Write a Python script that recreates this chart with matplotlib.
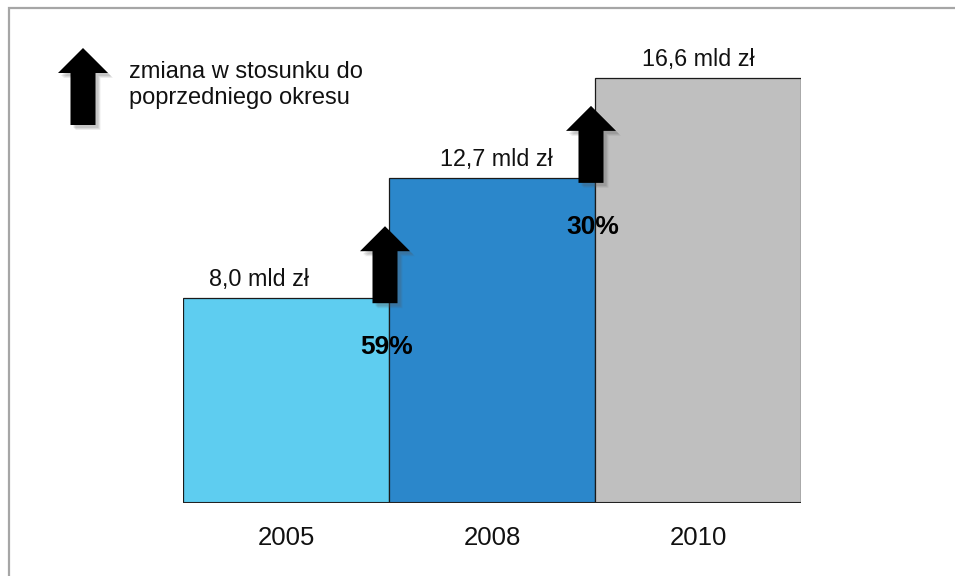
#!/usr/bin/env python3
"""Bar chart: wartosc w mld zl, 2005 / 2008 / 2010, with change arrows."""

import matplotlib
matplotlib.use("Agg")
import matplotlib.pyplot as plt
import matplotlib.patches as mpatches
import matplotlib.transforms as mtransforms

plt.rcParams['font.family'] = ['Liberation Sans', 'DejaVu Sans']

# data
years = ['2005', '2008', '2010']
values = [8.0, 12.7, 16.6]
value_labels = ['8,0 mld zł', '12,7 mld zł', '16,6 mld zł']
changes = ['59%', '30%']
colors = ['#5ECDF0', '#2B87CB', '#BFBFBF']
legend_text = 'zmiana w stosunku do\npoprzedniego okresu'

W, H, DPI = 955, 576, 100
fig = plt.figure(figsize=(W / DPI, H / DPI), dpi=DPI)

# grey frame around the slide area (runs off right/bottom edges)
frame = mpatches.Rectangle((9 / W, -0.05), 1.2, 1 - 8 / H + 0.05,
                           transform=fig.transFigure, fill=False,
                           edgecolor='#A6A6A6', linewidth=1.6)
fig.patches.append(frame)

# axes placed so bars sit at the right pixels
left, right, bottom = 183, 801, 503
ymax = 18.0
px_per_unit = 25.6
ax = fig.add_axes([left / W, (H - bottom) / H,
                   (right - left) / W, ymax * px_per_unit / H])
ax.set_xlim(-0.5, 2.5)
ax.set_ylim(0, ymax)
ax.axis('off')

x = list(range(len(years)))
ax.bar(x, values, width=1.0, color=colors, edgecolor='#1a1a1a',
       linewidth=0.9, zorder=2)
ax.plot([-0.5, 2.5], [0, 0], color='#222222', linewidth=1.5, zorder=3,
        solid_capstyle='butt')

label_dx = [-0.13, 0.02, 0.0]
for i, (v, lab) in enumerate(zip(values, value_labels)):
    ax.annotate(lab, (i + label_dx[i], v), xytext=(0, 7),
                textcoords='offset pixels', ha='center', va='bottom',
                fontsize=16.8, color='#111111')

for i, yr in enumerate(years):
    ax.annotate(yr, (i, 0), xytext=(0, -35), textcoords='offset pixels',
                ha='center', va='center', fontsize=18.5, color='#111111')

# block arrow shape, in pixels relative to (center, bottom)
arrow_shape = [(-12.5, 0), (12.5, 0), (12.5, 52), (25, 52), (0, 77),
               (-25, 52), (-12.5, 52)]


def px_trans(base_trans, bx, by):
    return (mtransforms.Affine2D().scale(1 / DPI) + fig.dpi_scale_trans +
            mtransforms.ScaledTranslation(bx, by, base_trans))


def draw_arrow(trans, dx, dy):
    pts = [(px + dx, py + dy) for px, py in arrow_shape]
    for off, a in [(5, 0.10), (4, 0.12), (3, 0.15)]:
        sh = [(px + off, py - off) for px, py in pts]
        fig.patches.append(mpatches.Polygon(sh, closed=True, transform=trans,
                                            facecolor='#555555', alpha=a,
                                            edgecolor='none', zorder=4))
    fig.patches.append(mpatches.Polygon(pts, closed=True, transform=trans,
                                        facecolor='black', edgecolor='none',
                                        zorder=5))


# arrows at bar boundaries, starting from top of the previous bar
for i, ch in enumerate(changes):
    tr = px_trans(ax.transData, i + 0.5, values[i])
    draw_arrow(tr, -4, -5)
    ax.annotate(ch, (i + 0.5, values[i]), xytext=(-2, -49),
                textcoords='offset pixels', ha='center', va='center',
                fontsize=19, fontweight='bold', color='black', zorder=6)

# legend arrow + text
draw_arrow(px_trans(fig.transFigure, 83 / W, (H - 125) / H), 0, 0)
fig.text(129 / W, (H - 85) / H, legend_text, ha='left', va='center',
         fontsize=17, linespacing=1.26, color='#111111')

fig.savefig('out.png', dpi=DPI)
